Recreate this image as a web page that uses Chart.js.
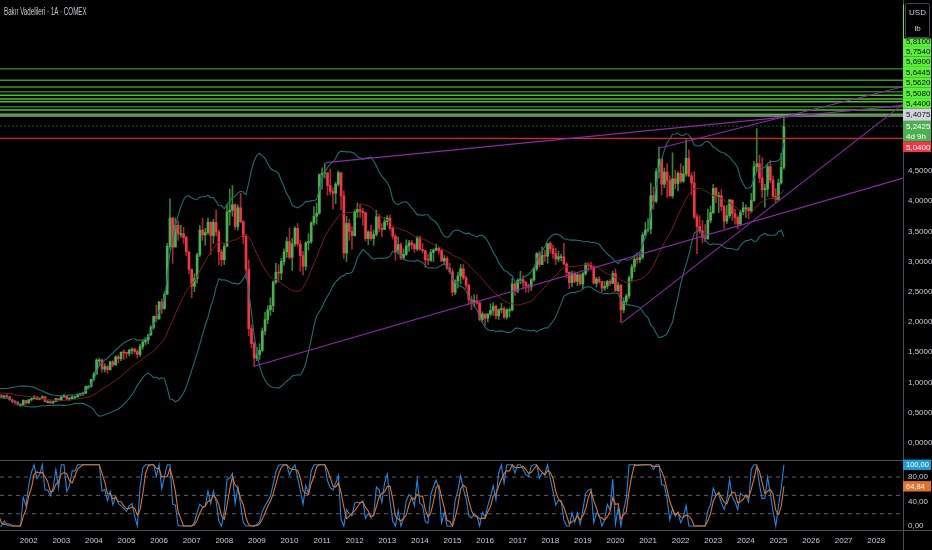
<!DOCTYPE html>
<html>
<head>
<meta charset="utf-8">
<script src="https://cdn.jsdelivr.net/npm/chart.js@4.4.1/dist/chart.umd.min.js"></script>
<style>
html,body{margin:0;padding:0;background:#000;overflow:hidden;}
canvas{display:block;}
</style>
</head>
<body>
<canvas id="c" width="932" height="550"></canvas>
<script>
// ---------------- DATA ----------------
const chartTitle = 'Bakır Vadelileri · 1A · COMEX';
const currencyUnit = ['USD', 'lb'];
const startYear = 1998;          // first monthly bar = Jan 1998
const firstOpen = 0.77;
// monthly closes (USD/lb), Jan 1998 ... Mar 2025
const closes = [
  .78,.75,.79,.83,.77,.76,.75,.74,.74,.72,.71,.66,            // 1998
  .64,.63,.63,.72,.66,.77,.78,.76,.82,.78,.80,.85,            // 1999
  .83,.80,.79,.77,.82,.83,.86,.88,.90,.86,.85,.84,            // 2000
  .82,.78,.76,.77,.76,.71,.68,.67,.63,.63,.70,.66,            // 2001
  .71,.73,.76,.72,.73,.76,.68,.68,.66,.68,.73,.70,            // 2002
  .76,.77,.72,.73,.76,.76,.80,.81,.82,.93,.93,1.05,           // 2003
  1.14,1.37,1.37,1.22,1.26,1.21,1.34,1.29,1.42,1.39,1.50,1.49,// 2004
  1.48,1.53,1.55,1.51,1.46,1.59,1.67,1.70,1.78,1.91,2.09,2.05,// 2005
  2.33,2.22,2.46,3.25,3.72,3.24,3.60,3.46,3.46,3.40,3.16,2.87,// 2006
  2.59,2.72,3.11,3.52,3.44,3.48,3.65,3.43,3.65,3.49,3.16,3.03,// 2007
  3.25,3.82,3.85,3.94,3.58,3.89,3.66,3.41,2.87,1.89,1.64,1.40,// 2008
  1.46,1.53,1.85,2.04,2.20,2.27,2.66,2.82,2.81,3.00,3.16,3.33,// 2009
  3.07,3.29,3.55,3.29,3.10,2.92,3.31,3.33,3.64,3.75,3.80,4.44,// 2010
  4.46,4.47,4.26,4.16,4.13,4.28,4.47,4.09,3.14,3.63,3.50,3.43,// 2011
  3.82,3.86,3.83,3.81,3.38,3.49,3.38,3.45,3.74,3.55,3.53,3.66,// 2012
  3.72,3.55,3.42,3.16,3.28,3.06,3.12,3.26,3.31,3.28,3.21,3.40,// 2013
  3.20,3.18,3.03,3.02,3.15,3.19,3.22,3.18,3.01,3.05,2.89,2.83,// 2014
  2.49,2.68,2.76,2.88,2.73,2.61,2.37,2.33,2.35,2.31,2.04,2.13,// 2015
  2.06,2.13,2.19,2.26,2.10,2.20,2.22,2.08,2.20,2.20,2.63,2.51,// 2016
  2.69,2.70,2.65,2.60,2.58,2.70,2.88,3.13,2.95,3.10,3.09,3.30,// 2017
  3.21,3.13,3.04,3.08,3.08,2.96,2.82,2.65,2.80,2.67,2.78,2.63,// 2018
  2.80,2.96,2.94,2.91,2.64,2.71,2.67,2.56,2.59,2.67,2.64,2.80,// 2019
  2.52,2.61,2.20,2.34,2.43,2.73,2.91,3.04,3.03,3.07,3.44,3.52,// 2020
  3.54,4.09,4.00,4.49,4.69,4.28,4.48,4.34,4.09,4.37,4.29,4.46,// 2021
  4.33,4.45,4.71,4.42,4.30,3.74,3.58,3.51,3.40,3.38,3.68,3.81,// 2022
  4.21,4.07,4.09,3.91,3.67,3.76,4.02,3.79,3.73,3.62,3.82,3.89,// 2023
  3.89,3.84,4.01,4.57,4.62,4.38,4.19,4.20,4.57,4.35,4.08,4.03,// 2024
  4.30,4.56,5.2425                                             // 2025
];
const highs = [
  .80,.80,.81,.85,.84,.78,.78,.76,.77,.76,.75,.71,
  .67,.66,.65,.73,.73,.78,.80,.79,.84,.83,.82,.86,
  .90,.84,.82,.80,.83,.84,.88,.90,.93,.91,.88,.87,
  .86,.83,.80,.78,.80,.77,.72,.70,.68,.65,.71,.70,
  .72,.74,.78,.76,.75,.78,.77,.70,.70,.69,.74,.73,
  .77,.80,.78,.75,.78,.77,.81,.82,.83,.94,.95,1.05,
  1.17,1.39,1.40,1.39,1.31,1.28,1.35,1.36,1.44,1.45,1.50,1.54,
  1.50,1.55,1.57,1.57,1.54,1.63,1.70,1.74,1.80,1.94,2.10,2.28,
  2.34,2.38,2.50,3.30,4.04,3.73,3.72,3.67,3.60,3.57,3.42,3.16,
  2.87,2.80,3.14,3.60,3.72,3.55,3.72,3.66,3.70,3.85,3.52,3.20,
  3.30,3.95,4.20,4.26,3.96,3.94,4.13,3.68,3.45,3.03,1.95,1.67,
  1.58,1.64,1.90,2.16,2.27,2.40,2.68,2.97,2.95,3.05,3.21,3.40,
  3.55,3.38,3.58,3.63,3.35,3.17,3.33,3.46,3.66,3.91,3.97,4.45,
  4.55,4.63,4.46,4.53,4.22,4.31,4.50,4.47,4.17,3.75,3.70,3.58,
  3.86,3.97,3.95,3.88,3.82,3.51,3.60,3.52,3.85,3.78,3.63,3.73,
  3.76,3.77,3.58,3.45,3.41,3.31,3.21,3.36,3.35,3.35,3.30,3.42,
  3.42,3.30,3.19,3.12,3.20,3.21,3.29,3.24,3.20,3.10,3.08,2.97,
  2.88,2.70,2.82,2.95,2.95,2.76,2.62,2.43,2.45,2.45,2.34,2.17,
  2.14,2.14,2.30,2.32,2.28,2.22,2.31,2.25,2.22,2.23,2.72,2.66,
  2.72,2.84,2.77,2.67,2.63,2.72,2.90,3.15,3.17,3.24,3.19,3.30,
  3.33,3.27,3.22,3.17,3.12,3.30,2.98,2.83,2.84,2.83,2.80,2.80,
  2.82,2.98,2.98,2.99,2.92,2.74,2.75,2.67,2.67,2.69,2.70,2.84,
  2.88,2.66,2.62,2.40,2.46,2.76,2.95,3.09,3.13,3.14,3.48,3.65,
  3.71,4.30,4.24,4.54,4.90,4.72,4.55,4.62,4.42,4.80,4.51,4.49,
  4.62,4.58,5.02,4.85,4.47,4.49,3.79,3.76,3.68,3.61,3.87,3.92,
  4.28,4.23,4.15,4.19,3.93,3.93,4.03,4.00,3.87,3.76,3.85,3.98,
  3.94,3.90,4.13,4.66,5.20,4.76,4.72,4.28,4.61,4.68,4.42,4.21,
  4.37,4.79,5.4075
];
const lows = [
  .75,.74,.74,.78,.76,.74,.74,.71,.72,.71,.70,.65,
  .63,.61,.61,.62,.65,.64,.75,.74,.76,.77,.77,.78,
  .82,.79,.78,.75,.76,.79,.81,.84,.86,.85,.83,.81,
  .80,.78,.75,.73,.74,.70,.66,.64,.62,.60,.62,.64,
  .65,.69,.72,.71,.71,.72,.68,.66,.65,.65,.68,.69,
  .70,.75,.72,.70,.72,.73,.75,.77,.78,.81,.89,.92,
  1.03,1.13,1.27,1.17,1.17,1.15,1.20,1.26,1.28,1.32,1.36,1.38,
  1.40,1.44,1.47,1.48,1.40,1.43,1.55,1.62,1.64,1.78,1.88,2.00,
  2.04,2.14,2.21,2.45,3.20,2.97,3.24,3.35,3.40,3.30,3.10,2.80,
  2.40,2.50,2.64,3.08,3.35,3.27,3.45,3.12,3.30,3.42,2.95,2.93,
  2.95,3.25,3.60,3.75,3.53,3.52,3.64,3.30,2.72,1.77,1.57,1.26,
  1.36,1.38,1.50,1.79,1.97,2.11,2.17,2.63,2.66,2.70,2.94,3.07,
  3.04,2.85,3.25,3.25,2.84,2.78,2.86,3.19,3.30,3.60,3.62,3.78,
  4.20,4.38,4.10,4.11,3.87,3.96,4.25,3.86,3.05,3.00,3.35,3.20,
  3.42,3.73,3.73,3.60,3.34,3.28,3.35,3.27,3.42,3.49,3.41,3.53,
  3.60,3.52,3.37,3.02,3.12,3.03,3.03,3.10,3.17,3.21,3.15,3.18,
  3.19,3.14,2.90,2.95,3.00,3.00,3.18,3.12,3.00,2.95,2.87,2.80,
  2.43,2.45,2.56,2.63,2.70,2.55,2.29,2.20,2.25,2.29,2.02,2.00,
  1.94,2.00,2.10,2.11,2.05,2.04,2.15,2.06,2.05,2.08,2.18,2.44,
  2.48,2.63,2.56,2.49,2.49,2.52,2.67,2.85,2.91,2.95,3.00,2.97,
  3.14,3.05,2.95,3.00,3.01,2.95,2.73,2.55,2.58,2.65,2.60,2.61,
  2.56,2.77,2.84,2.86,2.63,2.58,2.64,2.50,2.52,2.55,2.60,2.63,
  2.50,2.50,1.99,2.15,2.29,2.39,2.68,2.83,2.97,2.98,3.04,3.40,
  3.49,3.46,3.87,3.97,4.38,4.10,4.22,4.06,4.07,4.05,4.20,4.17,
  4.30,4.31,4.41,4.40,4.10,3.71,3.13,3.47,3.31,3.33,3.36,3.64,
  3.79,3.97,3.81,3.84,3.55,3.63,3.72,3.68,3.62,3.54,3.61,3.77,
  3.73,3.71,3.81,4.00,4.50,4.30,4.06,3.90,4.08,4.30,4.05,3.97,
  4.01,4.28,4.53
];
// axis ticks
const yearTicks = [2002,2003,2004,2005,2006,2007,2008,2009,2010,2011,2012,2013,2014,2015,2016,2017,2018,2019,2020,2021,2022,2023,2024,2025,2026,2027,2028];
const priceTicks = [0,0.5,1,1.5,2,2.5,3,3.5,4,4.5];
const oscTicks = [0,40,80];
const oscBands = [80,50,20];
// horizontal levels
const greenLevels = [6.19,6.00,5.89,5.81,5.754,5.69,5.6445,5.562,5.508,5.44];
const greenTones  = ['d','m','m','d','b','b','b','d','b','b'];
const grayLevel = 5.4075;
const redLevel = 5.04;
const lastPrice = 5.2425;
const countdown = '4d 9h';
// trend lines [x in years, price]
const trendA = [[2011.11,4.637],[2028.82,5.586]];
const trendB = [[2020.18,1.977],[2028.82,5.607]];
const trendC = [[2008.94,1.270],[2028.82,4.382]];
const trendD = [[2021.34,4.874],[2028.82,5.894]];
// indicator settings
const bbLength = 20, bbMult = 2;
const rsiLength = 14, stochLength = 14, smoothK = 1, smoothD = 3;
// visible window
const xMin = 2001.12, xMax = 2028.82;
const yMin = -0.286, yMax = 7.33;
const oMin = -6.5, oMax = 107.8;

// ---------------- DERIVED ----------------
const fam = "'Liberation Sans', Arial, sans-serif";
Chart.defaults.font.family = fam;
const fmt = (v, d) => v.toFixed(d).replace('.', ',');
const n = closes.length;
const xs = closes.map((_, i) => startYear + i / 12);
const opens = closes.map((c, i) => (i === 0 ? firstOpen : closes[i - 1]));
const isUp = closes.map((c, i) => c >= opens[i]);

const basis = [], upper = [], lower = [];
for (let i = 0; i < n; i++) {
  if (i < bbLength - 1) { basis.push(null); upper.push(null); lower.push(null); continue; }
  const w = closes.slice(i - bbLength + 1, i + 1);
  const m = w.reduce((a, b) => a + b, 0) / bbLength;
  const sd = Math.sqrt(w.reduce((a, b) => a + (b - m) * (b - m), 0) / bbLength);
  basis.push(m); upper.push(m + bbMult * sd); lower.push(m - bbMult * sd);
}
const rsi = new Array(n).fill(null);
let au = 0, ad = 0;
for (let i = 1; i < n; i++) {
  const ch = closes[i] - closes[i - 1];
  const u = Math.max(ch, 0), d = Math.max(-ch, 0);
  if (i <= rsiLength) { au += u / rsiLength; ad += d / rsiLength; if (i < rsiLength) continue; }
  else { au = (au * (rsiLength - 1) + u) / rsiLength; ad = (ad * (rsiLength - 1) + d) / rsiLength; }
  rsi[i] = ad === 0 ? 100 : 100 - 100 / (1 + au / ad);
}
const stoch = new Array(n).fill(null);
for (let i = rsiLength + stochLength - 1; i < n; i++) {
  const w = rsi.slice(i - stochLength + 1, i + 1);
  const lo = Math.min(...w), hi = Math.max(...w);
  stoch[i] = hi === lo ? 0 : (rsi[i] - lo) / (hi - lo) * 100;
}
function smaN(arr, len) {
  return arr.map((v, i) => {
    if (i < len - 1) return null;
    const w = arr.slice(i - len + 1, i + 1);
    if (w.some(q => q === null)) return null;
    return w.reduce((a, b) => a + b, 0) / len;
  });
}
const kLine = smaN(stoch, smoothK);
const dLine = smaN(kLine, smoothD);

const pts = arr => arr.map((v, i) => ({ x: xs[i], y: v }));
const seg = a => a.map(p => ({ x: p[0], y: p[1] }));
const hline = v => [{ x: xMin, y: v }, { x: xMax, y: v }];

const UP = '#4caf50', DN = '#f23645', UPW = '#3a7f3a', DNW = '#9e2b36';
const PURPLE = '#8a2aa6';
const toneColor = { d: '#2d7a1c', m: '#3a9a25', b: '#4cbf2e' };

const datasets = [];
[trendA, trendB, trendC, trendD].forEach((t, i) => datasets.push({
  type: 'line', label: 'Trend ' + 'ABCD'[i], data: seg(t), yAxisID: 'y',
  borderColor: PURPLE, borderWidth: 1.1, pointRadius: 0, order: 0
}));
greenLevels.forEach((v, i) => datasets.push({
  type: 'line', label: 'Seviye ' + fmt(v, 4), data: hline(v), yAxisID: 'y',
  borderColor: toneColor[greenTones[i]], borderWidth: 1.5, pointRadius: 0, order: 1
}));
datasets.push({ type: 'line', label: 'Seviye ' + fmt(grayLevel, 4), data: hline(grayLevel), yAxisID: 'y', borderColor: '#9a9ca3', borderWidth: 1.5, pointRadius: 0, order: 1 });
datasets.push({ type: 'line', label: 'Seviye ' + fmt(redLevel, 4), data: hline(redLevel), yAxisID: 'y', borderColor: '#e0202e', borderWidth: 1.2, pointRadius: 0, order: 1 });
datasets.push({ type: 'line', label: 'Son fiyat', data: hline(lastPrice), yAxisID: 'y', borderColor: '#1f5a22', borderWidth: 1, borderDash: [2, 2], pointRadius: 0, order: 1 });
datasets.push({ type: 'line', label: 'BB üst', data: pts(upper), yAxisID: 'y', borderColor: '#1e6e72', borderWidth: 1.1, pointRadius: 0, order: 2 });
datasets.push({ type: 'line', label: 'BB alt', data: pts(lower), yAxisID: 'y', borderColor: '#1e6e72', borderWidth: 1.1, pointRadius: 0, order: 2 });
datasets.push({ type: 'line', label: 'BB orta', data: pts(basis), yAxisID: 'y', borderColor: '#7a1d1d', borderWidth: 1, pointRadius: 0, order: 2 });
datasets.push({
  type: 'bar', label: 'Gövde', data: xs.map((x, i) => ({ x, y: [opens[i], closes[i]] })), yAxisID: 'y',
  backgroundColor: isUp.map(u => (u ? UP : DN)), barThickness: 2, grouped: false, minBarLength: 1, borderWidth: 0, order: 3
});
datasets.push({
  type: 'bar', label: 'Fitil', data: xs.map((x, i) => ({ x, y: [lows[i], highs[i]] })), yAxisID: 'y',
  backgroundColor: isUp.map(u => (u ? UPW : DNW)), barThickness: 1, grouped: false, borderWidth: 0, order: 4
});
oscBands.forEach(v => datasets.push({
  type: 'line', label: 'Bant ' + v, data: hline(v), yAxisID: 'y2',
  borderColor: '#5d606b', borderWidth: 1, borderDash: [4, 4], pointRadius: 0, order: 5
}));
datasets.push({ type: 'line', label: 'K', data: pts(kLine), yAxisID: 'y2', borderColor: '#1e88e5', borderWidth: 1.1, pointRadius: 0, order: 1 });
datasets.push({ type: 'line', label: 'D', data: pts(dLine), yAxisID: 'y2', borderColor: '#e8701e', borderWidth: 1.1, pointRadius: 0, order: 0 });

const tickFont = { size: 8, family: fam };
const tickColor = '#c9ccd4';
const AXIS = '#4a4d57';
const noPad = s => { s.paddingTop = 0; s.paddingBottom = 0; s.paddingLeft = 0; s.paddingRight = 0; };

const bg = {
  id: 'bg',
  beforeDraw(c) { const g = c.ctx; g.save(); g.fillStyle = '#000'; g.fillRect(0, 0, c.width, c.height); g.restore(); }
};

function label(g, x, top, w, h, bgc, fgc, lines) {
  g.fillStyle = bgc; g.fillRect(x, top, w, h);
  g.fillStyle = fgc; g.textAlign = 'left'; g.textBaseline = 'middle';
  const lh = h / lines.length;
  lines.forEach((t, k) => g.fillText(t, x + 3, top + lh * k + lh / 2 + 0.5));
}

const overlay = {
  id: 'overlay',
  afterDraw(c) {
    const g = c.ctx, { x, y, y2 } = c.scales;
    const ax = Math.round(c.chartArea.right) + 0.5;
    g.save();
    g.strokeStyle = AXIS; g.lineWidth = 1;
    g.beginPath();
    g.moveTo(0, Math.round(y2.top) + 0.5); g.lineTo(c.width, Math.round(y2.top) + 0.5);
    g.moveTo(0, Math.round(x.top) + 0.5); g.lineTo(c.width, Math.round(x.top) + 0.5);
    g.moveTo(ax, 0); g.lineTo(ax, c.height);
    g.stroke();
    g.save();
    g.fillStyle = '#c9ccd4'; g.font = '10px ' + fam; g.textBaseline = 'middle'; g.textAlign = 'left';
    g.translate(4, 12); g.scale(0.62, 1); g.fillText(chartTitle, 0, 0);
    g.restore();
    g.font = '8px ' + fam;
    const H = 10.4;
    const items = greenLevels.map(v => ({ v, lines: [fmt(v, 4)], bg: '#5bee3c', fg: '#0b0b0b', h: H }));
    items.push({ v: grayLevel, lines: [fmt(grayLevel, 4)], bg: '#d1d4dc', fg: '#111', h: H + 2 });
    items.push({ v: lastPrice, lines: [fmt(lastPrice, 4), countdown], bg: '#4caf50', fg: '#fff', h: 2 * H, anchor: true });
    items.push({ v: redLevel, lines: [fmt(redLevel, 4)], bg: '#f23645', fg: '#fff', h: H });
    items.sort((a, b) => b.v - a.v);
    const ai = items.findIndex(it => it.anchor);
    items[ai].top = y.getPixelForValue(items[ai].v) - H / 2;
    for (let i = ai + 1; i < items.length; i++) {
      const nat = y.getPixelForValue(items[i].v) - H / 2;
      items[i].top = Math.max(nat, items[i - 1].top + items[i - 1].h);
    }
    for (let i = ai - 1; i >= 0; i--) {
      const natB = y.getPixelForValue(items[i].v) + H / 2;
      items[i].top = Math.min(natB, items[i + 1].top) - items[i].h;
    }
    items.forEach(it => label(g, ax - 0.5, it.top, 28, it.h, it.bg, it.fg, it.lines));
    g.fillStyle = '#000'; g.fillRect(ax + 0.5, 0, c.width - ax, 38.5);
    g.strokeStyle = '#434651'; g.lineWidth = 1;
    g.beginPath(); g.roundRect(905.5, 3.5, 24, 34, 2); g.stroke();
    g.fillStyle = '#d1d4dc'; g.textAlign = 'center'; g.textBaseline = 'middle';
    g.fillText(currencyUnit[0], 917.5, 12.5); g.fillText(currencyUnit[1], 917.5, 29);
    const lk = kLine[n - 1], ld = dLine[n - 1];
    g.font = '7.5px ' + fam;
    label(g, ax - 0.5, y2.getPixelForValue(lk) - H / 2, 28, H, '#1e9ad6', '#fff', [fmt(lk, 2)]);
    label(g, ax - 0.5, y2.getPixelForValue(ld) - H / 2, 28, H, '#e2712a', '#fff', [fmt(ld, 2)]);
    g.restore();
  }
};

new Chart(document.getElementById('c'), {
  type: 'bar',
  data: { datasets },
  options: {
    responsive: false, animation: false, events: [],
    layout: { padding: 0 },
    plugins: { legend: { display: false }, tooltip: { enabled: false }, title: { display: false } },
    scales: {
      x: {
        type: 'linear', min: xMin, max: xMax, offset: false, position: 'bottom',
        grid: { display: false, drawTicks: false }, border: { display: false },
        afterBuildTicks: s => { s.ticks = yearTicks.map(v => ({ value: v })); },
        ticks: { callback: v => String(v), color: tickColor, font: tickFont, padding: 6, maxRotation: 0, autoSkip: false },
        afterFit: s => { s.height = 20; noPad(s); }
      },
      y: {
        type: 'linear', position: 'right', stack: 'panes', stackWeight: 460, min: yMin, max: yMax,
        grid: { display: false, drawTicks: false }, border: { display: false },
        afterBuildTicks: s => { s.ticks = priceTicks.map(v => ({ value: v })); },
        ticks: { callback: v => fmt(v, 4), color: tickColor, font: tickFont, padding: 5 },
        afterFit: s => { s.width = 29; noPad(s); }
      },
      y2: {
        type: 'linear', position: 'right', stack: 'panes', stackWeight: 70, min: oMin, max: oMax,
        grid: { display: false, drawTicks: false }, border: { display: false },
        afterBuildTicks: s => { s.ticks = oscTicks.map(v => ({ value: v })); },
        ticks: { callback: v => fmt(v, 2), color: tickColor, font: tickFont, padding: 5 },
        afterFit: s => { s.width = 29; noPad(s); }
      }
    }
  },
  plugins: [bg, overlay]
});
</script>
</body>
</html>
